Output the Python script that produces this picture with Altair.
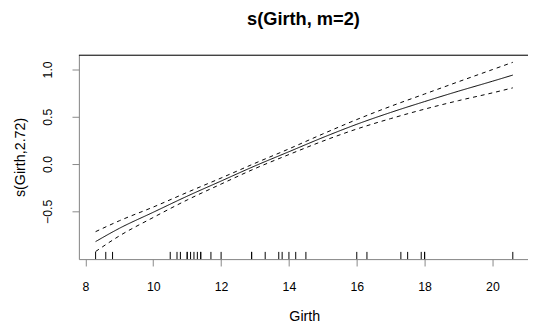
import altair as alt
import pandas as pd

# Smooth estimate s(Girth)
girth_grid = [8.3, 9, 10, 11, 12, 13, 14, 15, 16, 17, 18, 19, 20, 20.6]
fit = [-0.82, -0.68, -0.51, -0.34, -0.18, -0.02, 0.13, 0.28, 0.42, 0.545, 0.66, 0.77, 0.875, 0.94]
upper = [-0.715, -0.60, -0.455, -0.30, -0.148, 0.008, 0.16, 0.318, 0.47, 0.61, 0.74, 0.87, 0.998, 1.075]
lower = [-0.925, -0.76, -0.565, -0.38, -0.212, -0.048, 0.10, 0.242, 0.37, 0.48, 0.58, 0.67, 0.752, 0.805]

# Rug of observed Girth values
rug_girth = [8.3, 8.6, 8.8, 10.5, 10.7, 10.8, 11.0, 11.0, 11.1, 11.2, 11.3, 11.4, 11.4,
             11.7, 12.0, 12.9, 12.9, 13.3, 13.7, 13.8, 14.0, 14.2, 14.5, 16.0, 16.3,
             17.3, 17.5, 17.9, 18.0, 18.0, 20.6]

x_ticks = [8, 10, 12, 14, 16, 18, 20]
y_ticks = [-0.5, 0.0, 0.5, 1.0]

W = 456
H = 207.5
FONT = "Liberation Sans"

xs = alt.Scale(domain=[7.808, 21.048], nice=False, zero=False)
ys = alt.Scale(domain=[-1.005, 1.155], nice=False, zero=False)

n = len(girth_grid)
lines = pd.DataFrame({
    "girth": girth_grid * 3,
    "value": fit + upper + lower,
    "band": ["fit"] * n + ["upper"] * n + ["lower"] * n,
})
rug = pd.DataFrame({"girth": rug_girth})
one = pd.DataFrame({"k": [0]})

x_axis = alt.Axis(
    values=x_ticks, tickSize=7, labelPadding=15, labelFontSize=12.5,
    labelFlush=False, labelOverlap=False, grid=False,
    title="Girth", titleFontSize=14.5, titleFontWeight="normal",
    titleX=228.8, titleY=58, titleBaseline="middle", titleAlign="center",
)
y_axis = alt.Axis(
    values=y_ticks, format=".1f", tickSize=7, labelPadding=21,
    labelAngle=270, labelAlign="center", labelBaseline="alphabetic",
    labelFontSize=12.5, labelOverlap=False, grid=False,
    title="s(Girth,2.72)", titleFontSize=14.5, titleFontWeight="normal",
    titleAngle=270, titleX=-59, titleY=H / 2, titleBaseline="middle", titleAlign="center",
)

curves = alt.Chart(lines).mark_line(color="black", strokeWidth=1, interpolate="monotone").encode(
    x=alt.X("girth:Q", scale=xs, axis=x_axis),
    y=alt.Y("value:Q", scale=ys, axis=y_axis),
    detail="band:N",
    strokeDash=alt.StrokeDash(
        "band:N",
        scale=alt.Scale(domain=["fit", "upper", "lower"], range=[[1, 0], [4, 4], [4, 4]]),
        legend=None,
    ),
)
rug_marks = alt.Chart(rug).mark_rule(color="black", strokeWidth=1).encode(
    x=alt.X("girth:Q", scale=xs, axis=x_axis),
    y=alt.value(H - 7.3),
    y2=alt.value(H),
)
top_border = alt.Chart(one).mark_rule(color="black", strokeWidth=1).encode(
    x=alt.value(0), x2=alt.value(W), y=alt.value(0.5)
)

chart = alt.layer(curves, rug_marks, top_border).properties(
    width=W,
    height=H,
    padding={"left": 72, "top": 45, "right": 0, "bottom": 66.5},
    autosize=alt.AutoSizeParams(type="none"),
    title=alt.TitleParams(
        "s(Girth, m=2)", font=FONT, fontSize=18.5, fontWeight="bold",
        anchor="middle", baseline="middle", offset=18, color="black",
    ),
).configure_view(stroke=None).configure_axis(
    labelFont=FONT, titleFont=FONT, labelColor="black", titleColor="black",
    domainColor="black", tickColor="black", domainWidth=1, tickWidth=1,
).configure(background="white")

chart.save("out.html", embed_options={"renderer": "svg", "actions": False})
